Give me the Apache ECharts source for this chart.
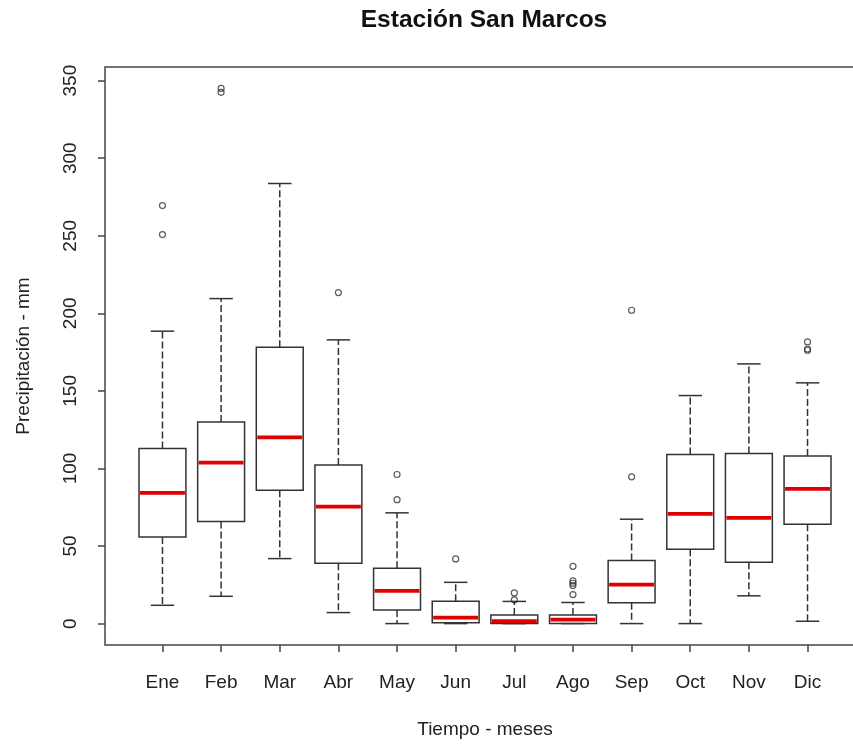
<!DOCTYPE html>
<html>
<head>
<meta charset="utf-8">
<script src="https://cdn.jsdelivr.net/npm/echarts@6/dist/echarts.min.js"></script>
<style>html,body{margin:0;padding:0;background:#fff}#c{width:853px;height:746px}</style>
</head>
<body>
<div id="c"></div>
<script>
const months = ['Ene','Feb','Mar','Abr','May','Jun','Jul','Ago','Sep','Oct','Nov','Dic'];
const lowerWhisker = [11.8, 17.6, 41.9, 7.1, 0, 0, 0, 0, 0, 0, 17.9, 1.5];
const q1 = [55.9, 65.8, 86.0, 38.9, 8.8, 0.5, 0, 0, 13.5, 47.9, 39.5, 64.0];
const median = [84.3, 103.8, 120.1, 75.4, 21.1, 3.9, 1.6, 2.5, 25.1, 70.7, 68.1, 86.8];
const q3 = [112.8, 130.0, 178.2, 102.3, 35.7, 14.4, 5.6, 5.6, 40.6, 109.0, 109.6, 108.1];
const upperWhisker = [188.5, 209.5, 283.7, 182.9, 71.4, 26.6, 14.3, 13.6, 67.3, 147.0, 167.4, 155.2];
const outliers = [
  [269.5, 250.8],
  [345.0, 342.5],
  [],
  [213.4],
  [96.1, 79.9],
  [41.7],
  [19.8, 15.3],
  [36.9, 27.5, 26.0, 24.5, 18.7],
  [202.0, 94.6],
  [],
  [],
  [181.6, 177.0, 176.2]
];
const yTicks = [0, 50, 100, 150, 200, 250, 300, 350];
const xTicks = [1,2,3,4,5,6,7,8,9,10,11,12];

const boxData = months.map((m, i) => [i + 1, lowerWhisker[i], q1[i], median[i], q3[i], upperWhisker[i]]);
const outData = [];
outliers.forEach((arr, i) => arr.forEach(v => outData.push([i + 1, v])));

const FONT = 'Liberation Sans, Arial, sans-serif';
const INK = '#333';

function renderBox(params, api) {
  const x = api.value(0);
  const lo = api.coord([x, api.value(1)]);
  const b1 = api.coord([x, api.value(2)]);
  const md = api.coord([x, api.value(3)]);
  const b3 = api.coord([x, api.value(4)]);
  const hi = api.coord([x, api.value(5)]);
  const unit = api.size([1, 0])[0];
  const bw = unit * 0.8;
  const cw = bw * 0.5;
  const cx = lo[0];
  const solid = {stroke: INK, lineWidth: 1.5, fill: null};
  const dashed = {stroke: INK, lineWidth: 1.5, lineDash: [7, 3], fill: null};
  return {
    type: 'group',
    children: [
      {type: 'line', shape: {x1: cx, y1: b3[1], x2: cx, y2: hi[1]}, style: dashed},
      {type: 'line', shape: {x1: cx, y1: b1[1], x2: cx, y2: lo[1]}, style: dashed},
      {type: 'line', shape: {x1: cx - cw / 2, y1: hi[1], x2: cx + cw / 2, y2: hi[1]}, style: solid},
      {type: 'line', shape: {x1: cx - cw / 2, y1: lo[1], x2: cx + cw / 2, y2: lo[1]}, style: solid},
      {type: 'rect', shape: {x: cx - bw / 2, y: b3[1], width: bw, height: b1[1] - b3[1]}, style: solid},
      {type: 'line', shape: {x1: cx - bw / 2 + 1, y1: md[1], x2: cx + bw / 2 - 1, y2: md[1]}, style: {stroke: '#e00000', lineWidth: 3.8}}
    ]
  };
}

const chart = echarts.init(document.getElementById('c'), null, {renderer: 'canvas'});
chart.setOption({
  backgroundColor: '#fff',
  animation: false,
  title: {
    text: 'Estación San Marcos',
    left: 484, top: 8, padding: 0,
    textAlign: 'center',
    textStyle: {fontFamily: FONT, fontWeight: 'bold', fontSize: 24.5, color: '#111'}
  },
  grid: {left: 105, top: 67, width: 760, height: 578, outerBoundsMode: 'none', containLabel: false,
         show: true, borderColor: '#444', borderWidth: 1.5, backgroundColor: 'transparent'},
  xAxis: {
    type: 'value', min: 0.02, max: 12.98,
    axisLine: {show: false, onZero: false},
    splitLine: {show: false},
    axisTick: {show: true, customValues: xTicks, length: 7, lineStyle: {color: '#444', width: 1.5}},
    axisLabel: {customValues: xTicks, formatter: v => months[Math.round(v) - 1] || '', margin: 28, fontFamily: FONT, fontSize: 19, color: '#222'},
    name: 'Tiempo - meses', nameLocation: 'middle', nameGap: 75,
    nameTextStyle: {fontFamily: FONT, fontSize: 19, color: '#222'}
  },
  yAxis: {
    type: 'value', min: -13.8, max: 358.8,
    axisLine: {show: false, onZero: false},
    splitLine: {show: false},
    axisTick: {show: true, customValues: yTicks, length: 7, lineStyle: {color: '#444', width: 1.5}},
    axisLabel: {customValues: yTicks, rotate: 90, margin: 25, fontFamily: FONT, fontSize: 19, color: '#222'},
    name: 'Precipitación - mm', nameLocation: 'middle', nameRotate: 90, nameGap: 72,
    nameTextStyle: {fontFamily: FONT, fontSize: 19, color: '#222'}
  },
  series: [
    {
      type: 'custom', renderItem: renderBox, data: boxData,
      encode: {x: 0, y: [1, 2, 3, 4, 5]}, clip: false, silent: true
    },
    {
      type: 'scatter', data: outData, symbol: 'circle', symbolSize: 6,
      itemStyle: {color: 'rgba(0,0,0,0)', borderColor: INK, borderWidth: 1.2},
      silent: true
    }
  ]
});
</script>
</body>
</html>
